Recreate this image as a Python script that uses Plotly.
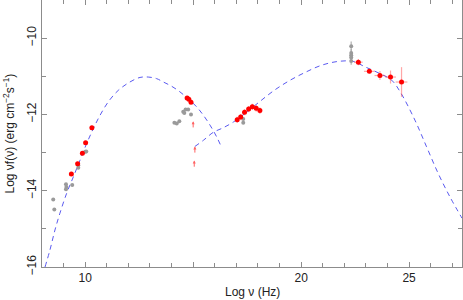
import plotly.graph_objects as go

# ---- data ----
# synchrotron model curve (sampled)
syn_x = [8.14, 8.37, 8.6, 8.83, 9.14, 9.45, 9.76, 10.07, 10.38, 10.69, 11.07, 11.53, 12.07, 12.54, 12.92,
         13.3, 13.62, 14.0, 14.39, 14.77, 15.16, 15.47, 15.78, 16.09, 16.32]
syn_y = [-16.0, -15.55, -15.03, -14.59, -14.07, -13.64, -13.2, -12.76, -12.37, -12.02, -11.67, -11.37, -11.15,
         -11.03, -11.02, -11.06, -11.15, -11.26, -11.41, -11.59, -11.8, -12.02, -12.28, -12.59, -12.87]
# inverse Compton model curve (sampled)
ic_x = [15.08, 15.47, 15.93, 16.39, 16.86, 17.5, 18.09, 18.75, 19.44, 20.18, 20.95, 21.72, 22.41,
        22.95, 23.65, 24.19, 24.6, 25.27, 25.81, 26.35, 26.89, 27.45]
ic_y = [-12.84, -12.68, -12.47, -12.35, -12.2, -11.93, -11.66, -11.37, -11.12, -10.9, -10.71, -10.61, -10.61,
        -10.75, -10.93, -11.1, -11.42, -12.15, -12.85, -13.55, -14.16, -14.72]

# archival (grey) points
grey_x = [8.52, 8.57, 9.11, 9.11, 9.13, 9.4, 9.68, 9.68, 10.0, 10.05,
          14.13, 14.24, 14.36, 14.54, 14.59, 14.65, 14.77, 14.9,
          17.32, 17.32]
grey_y = [-14.23, -14.49, -13.83, -13.96, -13.9, -13.85, -13.4, -13.33, -12.98, -12.97,
          -12.22, -12.24, -12.18, -11.93, -11.96, -11.87, -11.87, -12.0,
          -12.12, -12.22]
grey_gx = [22.32, 22.32, 22.32, 22.32, 22.32]
grey_gy = [-10.21, -10.39, -10.45, -10.51, -10.6]
grey_gerr = [0.12, 0.1, 0.1, 0.1, 0.1]

# simultaneous (red) points
red_x = [9.36, 9.65, 9.87, 10.02, 10.31,
         14.72, 14.8, 14.9,
         17.04, 17.2, 17.38, 17.57, 17.74, 17.92, 18.09]
red_y = [-13.56, -13.29, -13.02, -12.74, -12.35,
         -11.57, -11.6, -11.68,
         -12.14, -12.07, -11.94, -11.86, -11.8, -11.84, -11.9]
red_yerr = [0.03, 0.03, 0.03, 0.03, 0.03,
            0.04, 0.04, 0.04,
            0.08, 0.08, 0.08, 0.08, 0.08, 0.08, 0.08]
gam_x = [22.65, 23.16, 23.65, 24.14, 24.65]
gam_y = [-10.63, -10.87, -10.98, -11.02, -11.15]
gam_xerr = [0.2, 0.25, 0.25, 0.25, 0.27]
gam_yerr = [0.08, 0.05, 0.12, 0.17, 0.39]

# lower limits (arrows)
lim_x = [15.0, 15.08, 15.05]
lim_y = [-12.38, -13.04, -13.41]
lim_len = 0.2

x_ticks = [10, 15, 20, 25]
x_labels = ["10", "", "20", "25"]
y_ticks = [-16, -14, -12, -10]

RED = "#ff0000"
PINK = "rgba(255,60,60,0.45)"
GREY = "#9a9a9a"
BLUE = "#5a5af0"
FONT = "Liberation Sans, Arial"

fig = go.Figure()
fig.add_trace(go.Scatter(x=syn_x, y=syn_y, mode="lines", line=dict(color=BLUE, width=1, dash="5px,4px", shape="spline")))
fig.add_trace(go.Scatter(x=ic_x, y=ic_y, mode="lines", line=dict(color=BLUE, width=1, dash="5px,4px", shape="spline")))
fig.add_trace(go.Scatter(x=grey_x, y=grey_y, mode="markers", marker=dict(color=GREY, size=4)))
fig.add_trace(go.Scatter(x=grey_gx, y=grey_gy, mode="markers", marker=dict(color=GREY, size=4),
                         error_y=dict(type="data", array=grey_gerr, color="rgba(150,150,150,0.6)", thickness=1.5, width=0)))
fig.add_trace(go.Scatter(x=red_x, y=red_y, mode="markers", marker=dict(color=RED, size=5),
                         error_y=dict(type="data", array=red_yerr, color=PINK, thickness=1.5, width=0)))
fig.add_trace(go.Scatter(x=gam_x, y=gam_y, mode="markers", marker=dict(color=RED, size=5),
                         error_y=dict(type="data", array=gam_yerr, color=PINK, thickness=1.2, width=0),
                         error_x=dict(type="data", array=gam_xerr, color=PINK, thickness=1.2, width=0)))

for lx, ly in zip(lim_x, lim_y):
    fig.add_annotation(x=lx, y=ly + lim_len, ax=lx, ay=ly, xref="x", yref="y", axref="x", ayref="y",
                       showarrow=True, arrowhead=2, arrowsize=0.6, arrowwidth=1,
                       arrowcolor="rgba(255,70,70,0.85)", standoff=0, text="")

axis_common = dict(showline=True, linecolor="#8c8c8c", linewidth=1, mirror="ticks", ticks="inside",
                   tickcolor="#8c8c8c", ticklen=5, showgrid=False, zeroline=False, automargin=False,
                   tickfont=dict(family=FONT, size=12, color="#222"))
fig.update_xaxes(range=[8, 27.45], tickvals=x_ticks, ticktext=x_labels,
                 minor=dict(dtick=1, tick0=0, ticks="inside", ticklen=4, tickcolor="#8c8c8c"), **axis_common)
fig.update_yaxes(range=[-16, -9], tickvals=y_ticks, tickangle=-90,
                 minor=dict(dtick=1, tick0=0, ticks="inside", ticklen=4, tickcolor="#8c8c8c"), **axis_common)

fig.add_annotation(text="Log ν (Hz)", xref="paper", yref="paper", x=0.5, y=0, yshift=-25,
                   xanchor="center", yanchor="middle", showarrow=False,
                   font=dict(family=FONT, size=12, color="#222"))
fig.add_annotation(text="Log νf(ν) (erg cm<sup>−2</sup>s<sup>−1</sup>)", xref="paper", yref="paper",
                   x=0, y=0.5, xshift=-34, textangle=-90, xanchor="center", yanchor="middle", showarrow=False,
                   font=dict(family=FONT, size=12, color="#222"))

fig.update_layout(width=463, height=300, margin=dict(l=42, r=1, t=0, b=33),
                  plot_bgcolor="white", paper_bgcolor="white", showlegend=False)
fig.write_html("out.html", config={"displayModeBar": False},
               post_script="document.body.style.margin='0px';document.body.style.padding='0px';")
